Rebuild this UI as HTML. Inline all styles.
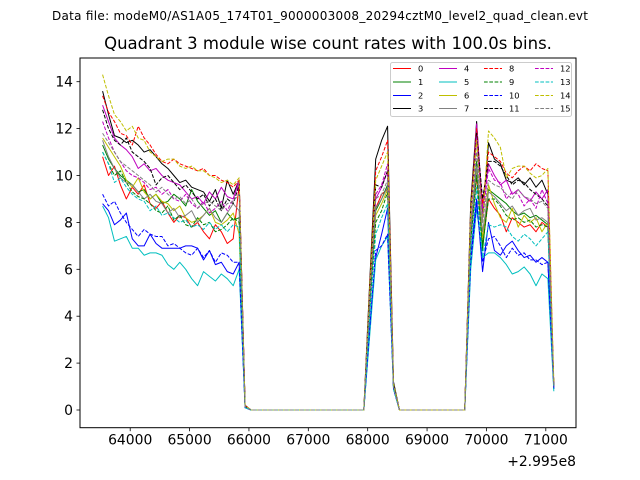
<!DOCTYPE html>
<html><head><meta charset="utf-8"><style>
html,body{margin:0;padding:0;background:#fff;}
svg{display:block;font-family:"DejaVu Sans","Liberation Sans",sans-serif;}
</style></head><body>
<svg id="chart" width="640" height="480">
<text x="320" y="20" text-anchor="middle" font-size="12" textLength="536">Data file: modeM0/AS1A05_174T01_9000003008_20294cztM0_level2_quad_clean.evt</text>
<text x="328" y="49" text-anchor="middle" font-size="16.5">Quadrant 3 module wise count rates with 100.0s bins.</text>
<g id="plot"></g>
</svg>
<script>
const t0 = 63535, binSize = 100;
const Z12 = [0,0,0,0,0,0,0,0,0,0,0,0];
const Z20 = Z12.concat([0,0,0,0,0,0,0,0]);
const segA = [
[10.8,10.0,10.4,9.6,9.0,9.5,9.2,9.6,8.8,8.6,8.9,8.4,8.0,8.3,8.2,7.8,8.0,7.6,7.3,7.9,7.6,7.1,7.3,9.6],
[11.3,10.7,10.3,10.0,9.8,9.6,9.3,9.4,9.0,9.2,8.8,8.9,9.2,9.0,8.7,9.4,8.9,8.6,8.3,8.5,8.0,8.4,8.1,8.2],
[8.8,8.5,7.9,8.1,8.4,7.3,7.0,7.0,7.5,7.1,6.9,6.9,6.9,6.9,7.0,7.0,6.9,6.4,6.8,6.2,6.3,5.9,5.8,6.3],
[13.6,12.6,11.7,11.6,11.4,11.5,11.3,11.0,11.1,10.8,10.5,10.3,10.0,9.7,9.8,9.5,9.4,9.3,8.9,9.4,8.6,9.8,9.2,9.8],
[13.0,12.3,11.6,11.3,11.1,10.8,10.3,10.5,10.2,10.3,10.0,9.8,9.7,9.6,9.3,9.0,9.1,8.8,9.3,9.0,9.5,9.1,9.0,9.8],
[8.7,8.2,7.2,7.3,7.4,6.9,6.9,6.6,6.7,6.7,6.6,6.2,6.0,6.3,6.0,5.6,5.3,5.9,5.7,5.5,5.8,5.6,5.3,6.0],
[11.6,11.2,10.8,10.4,9.8,9.5,9.9,9.3,9.0,9.2,8.9,8.8,8.5,8.7,8.2,8.0,8.1,8.3,8.6,8.0,7.9,8.1,8.4,7.5],
[11.5,10.8,10.3,9.9,9.7,9.6,9.3,9.0,9.2,8.9,8.8,8.4,8.6,8.2,8.3,8.5,8.0,8.3,8.6,8.2,8.0,8.4,8.8,8.5],
[13.4,12.7,12.3,11.8,11.7,11.3,12.1,11.6,11.3,10.9,10.6,10.5,10.7,10.5,10.4,10.3,10.2,10.3,10.0,10.0,9.8,9.7,9.5,9.8],
[11.0,10.5,10.0,10.2,9.7,9.3,9.1,9.0,8.8,8.5,8.4,8.7,8.1,8.3,7.9,7.8,8.2,7.9,8.0,7.6,7.7,7.9,8.2,8.0],
[9.2,8.7,8.9,8.4,8.0,7.7,7.4,7.7,7.5,7.4,7.4,7.0,7.1,6.9,6.7,6.6,6.9,6.5,6.8,6.3,6.7,6.6,6.3,6.3],
[12.8,12.0,11.5,11.3,11.6,11.0,10.8,10.6,10.3,9.6,9.9,10.0,9.7,9.4,9.6,9.3,9.0,9.2,8.7,9.0,8.5,9.0,8.8,9.6],
[12.3,11.6,11.0,10.6,10.2,10.0,9.9,9.7,9.4,9.5,9.2,9.4,9.0,8.9,9.2,8.8,8.6,8.9,8.4,8.6,8.9,8.5,9.0,9.7],
[11.0,10.5,9.7,9.9,9.5,9.2,9.0,8.9,8.5,8.7,8.3,8.4,8.2,8.0,8.1,7.8,7.9,7.7,8.0,7.7,7.9,7.6,7.9,7.8],
[14.3,13.4,12.6,12.3,11.9,12.1,11.6,11.5,11.0,10.8,10.6,10.7,10.7,10.4,10.3,10.4,10.2,10.2,10.0,9.9,9.7,9.8,9.6,9.9],
[11.8,11.4,11.0,10.6,10.4,10.2,10.0,9.8,9.6,9.3,9.5,9.2,9.0,9.1,8.8,9.0,8.6,8.8,8.9,8.7,8.5,8.8,8.9,9.2]
];
const dropVal = [0.15,0.15,0.1,0.2,0.15,0.1,0.15,0.15,0.2,0.15,0.1,0.15,0.15,0.1,0.2,0.15];
const segB = [
[4.4,8.6,9.2,9.4,1.0],[4.5,8.5,9.0,9.6,1.0],[3.5,6.5,7.5,8.6,0.9],[5.5,10.7,11.5,12.1,1.2],
[4.8,9.0,9.5,10.2,1.0],[3.2,6.4,7.0,7.4,0.9],[4.3,8.3,8.8,9.4,1.0],[4.5,8.6,9.0,9.5,1.0],
[5.3,10.2,10.8,11.5,1.1],[4.3,8.0,8.5,9.3,1.0],[3.5,6.8,7.0,7.5,0.9],[5.0,9.6,9.5,10.2,1.1],
[4.8,9.2,9.6,10.5,1.0],[4.0,7.5,8.2,8.8,0.9],[5.2,9.8,10.4,11.0,1.1],[4.8,9.0,9.2,9.8,1.0]
];
const segC = [
[7.4,10.0,7.0,9.0,8.6,8.3,7.6,8.2,8.0,7.8,7.9,7.6,8.0,7.8,1.0],
[7.6,10.6,6.8,9.4,9.2,9.0,8.8,8.5,8.3,8.4,8.2,8.3,8.1,7.9,1.0],
[6.6,9.0,5.9,8.0,6.8,6.6,7.0,7.2,6.8,6.5,6.6,6.3,6.5,6.3,0.9],
[8.8,12.3,8.2,11.4,10.7,10.5,9.8,9.7,9.9,9.6,9.9,9.5,9.8,9.2,1.0],
[8.3,12.2,8.6,10.5,10.0,9.6,9.8,9.2,9.4,9.1,8.9,9.3,9.0,9.4,1.0],
[6.0,8.6,6.5,6.7,6.7,6.5,6.2,5.8,5.9,6.1,5.8,5.3,5.8,5.6,0.8],
[7.5,10.2,7.3,9.6,8.8,8.2,8.0,8.6,7.8,8.3,8.0,8.2,7.6,8.0,1.0],
[7.5,10.4,7.6,9.3,9.1,8.8,8.5,8.7,8.3,8.5,8.6,8.1,8.2,8.0,1.0],
[8.6,12.0,8.8,11.0,10.8,10.6,10.1,9.9,10.2,10.4,10.2,10.5,10.3,10.2,1.0],
[7.2,10.0,7.0,9.0,9.0,8.7,8.3,8.1,8.2,8.0,8.1,7.8,7.9,7.8,1.0],
[6.3,8.8,6.3,7.3,7.4,7.0,6.5,6.9,6.6,6.7,6.4,6.4,6.2,6.3,0.9],
[8.4,11.8,9.0,10.6,10.6,10.4,10.0,9.6,9.8,9.7,9.4,9.2,9.0,8.7,1.0],
[8.0,11.6,8.2,10.3,9.8,9.7,9.0,9.3,9.2,8.7,9.0,8.6,9.4,8.8,1.0],
[6.8,9.5,6.5,7.9,7.8,7.9,7.8,7.4,7.2,7.5,7.3,7.0,7.3,7.6,0.9],
[8.5,11.5,8.0,11.9,11.6,11.2,9.9,10.3,10.4,10.4,10.1,9.9,10.0,10.3,1.2],
[7.8,11.0,8.0,9.8,9.6,9.5,9.2,9.0,9.4,9.1,9.0,8.8,8.9,8.6,1.0]
];
const seriesLabels = ["0","1","2","3","4","5","6","7","8","9","10","11","12","13","14","15"];
const seriesColors = ["#ff0000","#008000","#0000ff","#000000","#bf00bf","#00bfbf","#bfbf00","#808080"];
const xTicks = [64000,65000,66000,67000,68000,69000,70000,71000];
const yTicks = [0,2,4,6,8,10,12,14];

const AX = {l:80, r:576, t:58, b:427.7};
function xs(v){ return 130.2 + (v-64000)*(545.8-130.2)/7000; }
function ys(v){ return 410 - v*(410-81.7)/14; }

const NS="http://www.w3.org/2000/svg";
const g=document.getElementById('plot');
function mk(tag,attrs,parent){const e=document.createElementNS(NS,tag);for(const k in attrs)e.setAttribute(k,attrs[k]);(parent||g).appendChild(e);return e;}

const clip=mk('clipPath',{id:'clp'});
mk('rect',{x:AX.l,y:AX.t,width:AX.r-AX.l,height:AX.b-AX.t},clip);
const lines=mk('g',{'clip-path':'url(#clp)'});



for(let s=0;s<16;s++){
  const vals=segA[s].concat([dropVal[s]],Z20,segB[s],Z12,segC[s]);
  const pts=vals.map((v,i)=>xs(t0+i*binSize).toFixed(2)+','+ys(v).toFixed(2)).join(' ');
  const pl=mk('polyline',{points:pts,fill:'none',stroke:seriesColors[s%8],'stroke-width':1,'stroke-linejoin':'round'},lines);
  if(s>=8) pl.setAttribute('stroke-dasharray','3.7,1.6');
  
  
}

const frame=mk('rect',{x:AX.l,y:AX.t,width:AX.r-AX.l,height:AX.b-AX.t,fill:'none',stroke:'#000','stroke-width':1});



xTicks.forEach(v=>{
  const x=xs(v);
  mk('line',{x1:x,x2:x,y1:AX.b,y2:AX.b+3.5,stroke:'#000','stroke-width':0.8});
  const t=mk('text',{x:x,y:AX.b+17,'text-anchor':'middle','font-size':13.9});
  t.textContent=String(v);
  
  
});
const off=mk('text',{x:AX.r,y:466,'text-anchor':'end','font-size':13.9});
off.textContent='+2.995e8';



yTicks.forEach(v=>{
  const y=ys(v);
  mk('line',{x1:AX.l-3.5,x2:AX.l,y1:y,y2:y,stroke:'#000','stroke-width':0.8});
  const t=mk('text',{x:AX.l-7,y:y+5,'text-anchor':'end','font-size':13.9});
  t.textContent=String(v);
  
  
});

const leg=mk('g',{});


mk('rect',{x:390.5,y:62.5,width:181,height:54,rx:2,fill:'#fff','fill-opacity':0.8,stroke:'#ccc','stroke-width':1},leg);
const colX=[393,439,484,535];
const rowY=[68.5,82,95.5,108.5];
for(let s=0;s<16;s++){
  const c=Math.floor(s/4), r=s%4;
  const e=mk('g',{},leg);
  
  
  const ln=mk('line',{x1:colX[c],x2:colX[c]+18,y1:rowY[r],y2:rowY[r],stroke:seriesColors[s%8],'stroke-width':1},e);
  if(s>=8) ln.setAttribute('stroke-dasharray','3.7,1.6');
  const t=mk('text',{x:colX[c]+25,y:rowY[r]+3,'font-size':8.3},e);
  t.textContent=seriesLabels[s];
}
</script>
</body></html>
